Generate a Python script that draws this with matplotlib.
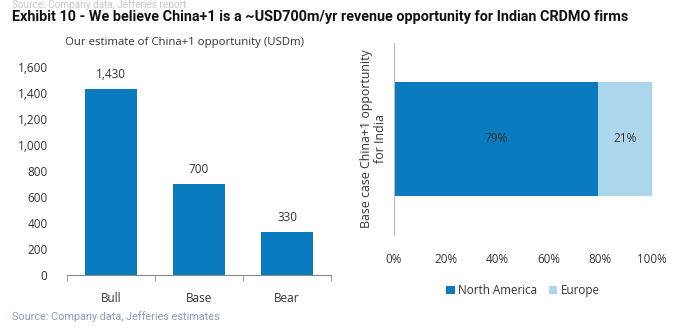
import matplotlib
matplotlib.use("Agg")
import matplotlib.pyplot as plt
import numpy as np

# Scenario estimates (USDm)
scenarios = ["Bull", "Base", "Bear"]
opportunity = [1430, 700, 330]
y_ticks = [0, 200, 400, 600, 800, 1000, 1200, 1400, 1600]

# Regional split of the base-case opportunity (%)
region_names = ["North America", "Europe"]
region_share = [79, 21]
split_label = "Base case China+1 opportunity\nfor India"
x_ticks = [0, 20, 40, 60, 80, 100]

DARK = "#0a7bbf"
LIGHT = "#acd6eb"
TXT = "#333333"
FONT = ["Open Sans", "DejaVu Sans"]

plt.rcParams["font.family"] = FONT

fig = plt.figure(figsize=(6.8, 3.28), dpi=100)
W, H = 680, 328

def ax_box(x0, y0, x1, y1):
    return [x0 / W, 1 - y1 / H, (x1 - x0) / W, (y1 - y0) / H]

# Header and footer
fig.text(12 / W, 1 - 5 / H, "Source: Company data, Jefferies report", fontsize=7.2,
         color="#c8c8c8", va="center", ha="left", family=["Roboto", "DejaVu Sans"])
fig.text(12 / W, 1 - 17 / H,
         "Exhibit 10 - We believe China+1 is a ~USD700m/yr revenue opportunity for Indian CRDMO firms",
         fontsize=10.4, fontweight="bold", color="#111111", va="center", ha="left",
         family=["Roboto", "DejaVu Sans"])
fig.text(65 / W, 1 - 43 / H, "Our estimate of China+1 opportunity (USDm)", fontsize=8.2,
         color=TXT, va="center", ha="left")
fig.text(12 / W, 1 - 317 / H, "Source: Company data, Jefferies estimates", fontsize=7.8,
         color="#8a9cb8", va="center", ha="left", family=["Roboto", "DejaVu Sans"])

# Left: scenario bars
ax1 = fig.add_axes(ax_box(67, 67, 331, 275))
x = np.arange(len(scenarios))
ax1.bar(x, opportunity, width=0.59, color=DARK, zorder=2)
ax1.set_xlim(-0.5, len(scenarios) - 0.5)
ax1.set_ylim(0, 1600)
ax1.set_yticks(y_ticks)
ax1.set_yticklabels([f"{v:,}" for v in y_ticks], fontsize=8.5, color=TXT)
ax1.tick_params(axis="y", length=0, pad=14)
ax1.set_xticks(x)
ax1.set_xticklabels(scenarios, fontsize=8.5, color=TXT)
ax1.set_xticks(np.arange(len(scenarios) + 1) - 0.5, minor=True)
ax1.tick_params(axis="x", which="major", length=0, pad=12)
ax1.tick_params(axis="x", which="minor", length=4, color="#888888", direction="out")
for s in ("top", "right", "left"):
    ax1.spines[s].set_visible(False)
ax1.spines["bottom"].set_color("#888888")
for xi, v in zip(x, opportunity):
    ax1.text(xi, v + 60, f"{v:,}", ha="center", va="bottom", fontsize=8.5, color=TXT)

# Right: regional split stacked bar
ax2 = fig.add_axes(ax_box(394, 43, 652, 235))
left = 0
colors = [DARK, LIGHT]
for name, share, c in zip(region_names, region_share, colors):
    ax2.barh(0, share, left=left, height=0.59, color=c, label=name, zorder=2)
    ax2.text(left + share / 2, 0, f"{share}%", ha="center", va="center",
             fontsize=8.6, color=TXT)
    left += share
ax2.set_xlim(0, 100)
ax2.set_ylim(-0.5, 0.5)
ax2.set_xticks(x_ticks)
ax2.set_xticklabels([f"{v}%" for v in x_ticks], fontsize=8.4, color=TXT)
ax2.tick_params(axis="x", length=0, pad=13)
ax2.set_yticks([])
ax2.set_ylabel(split_label, fontsize=8.9, color=TXT, labelpad=5, linespacing=1.1)
for s in ("top", "right", "bottom"):
    ax2.spines[s].set_visible(False)
ax2.spines["left"].set_color("#bbbbbb")
ax2.legend(loc="upper center", bbox_to_anchor=(0.5, -0.2), ncol=2, frameon=False,
           fontsize=8.4, handlelength=0.7, handleheight=0.7, handletextpad=0.3,
           columnspacing=1.0, labelcolor=TXT)

fig.savefig("out.png", dpi=100)
